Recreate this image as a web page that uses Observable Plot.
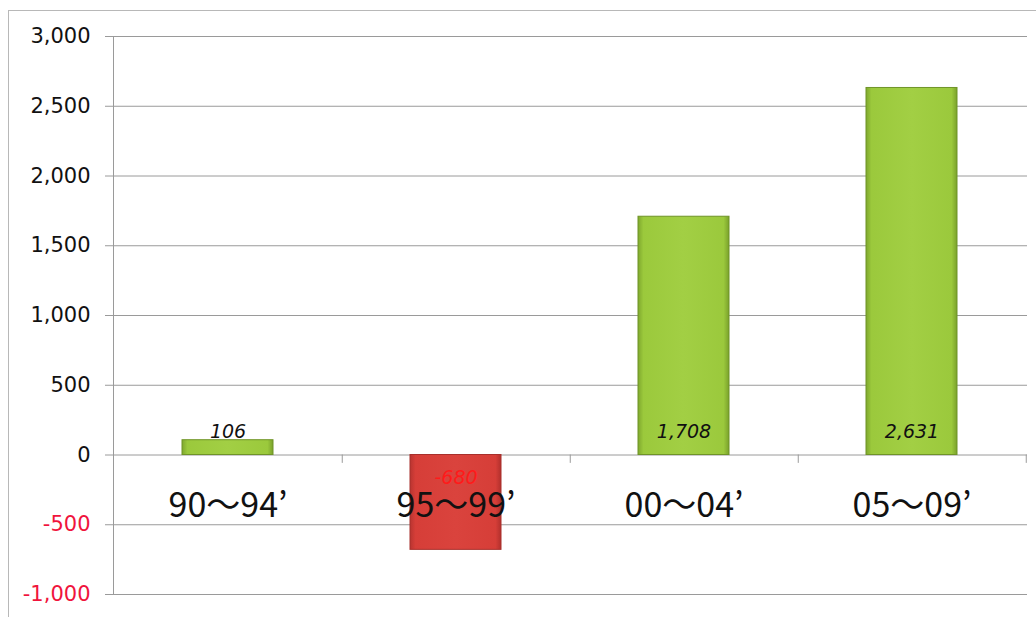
<!DOCTYPE html>
<html>
<head>
<meta charset="utf-8">
<script src="https://cdn.jsdelivr.net/npm/d3@7"></script>
<script src="https://cdn.jsdelivr.net/npm/@observablehq/plot@0.6"></script>
<style>
  html, body { margin: 0; padding: 0; background: #fff; }
  #wrap { position: relative; width: 1036px; height: 617px; overflow: hidden; }
  #border { position: absolute; left: 8px; top: 10px; width: 1040px; height: 640px; border: 1px solid #b8b8b8; box-sizing: border-box; }
  #chart { position: absolute; left: 0; top: 0; }
</style>
</head>
<body>
<div id="wrap"><div id="border"></div><div id="chart"></div></div>
<script>
// Five-year periods and their net values
const periods = ["90～94’", "95～99’", "00～04’", "05～09’"];
const values = [106, -680, 1708, 2631];
const yTicksPositive = [0, 500, 1000, 1500, 2000, 2500, 3000];
const yTicksNegative = [-1000, -500];

const rows = periods.map((p, i) => ({period: p, value: values[i]}));
const positives = rows.filter(d => d.value >= 0);
const negatives = rows.filter(d => d.value < 0);

// thousands separator with an ASCII hyphen for negatives
const fmt = v => (v < 0 ? "-" : "") + Math.abs(v).toLocaleString("en-US");

const axisStyle = {tickSize: 8, tickPadding: 15, tickFormat: fmt, fontSize: 21, fontFamily: "DejaVu Sans", stroke: "#9a9a9a", label: null};

const chart = Plot.plot({
  width: 1036,
  height: 617,
  marginLeft: 113,
  marginRight: 9,
  marginTop: 36,
  marginBottom: 23,
  style: {background: "transparent", overflow: "visible"},
  x: {domain: periods, paddingInner: 0.6, paddingOuter: 0.3, axis: null},
  y: {domain: [-1000, 3000], axis: null},
  marks: [
    // horizontal gridlines
    Plot.gridY(yTicksPositive.concat(yTicksNegative), {stroke: "#9a9a9a", strokeOpacity: 1, strokeWidth: 1}),
    Plot.axisY(yTicksPositive, {...axisStyle, fill: "#111"}),
    Plot.axisY(yTicksNegative, {...axisStyle, fill: "#f0143c"}),
    Plot.frame({anchor: "left", stroke: "#9a9a9a"}),
    // category tick marks along the zero line
    Plot.ruleX(periods, {x: d => d, y1: 0, y2: -60, dx: 114.25, stroke: "#9a9a9a"}),
    Plot.barY(positives, {x: "period", y: "value", fill: "url(#greenGrad)", stroke: "#6f9427", strokeWidth: 1}),
    Plot.barY(negatives, {x: "period", y: "value", fill: "url(#redGrad)", stroke: "#a8302c", strokeWidth: 1}),
    // value labels at the base of each bar
    Plot.text(positives, {
      x: "period", y: 0, text: d => fmt(d.value), dy: -23,
      fill: "#111", fontSize: 19, fontStyle: "italic", fontFamily: "DejaVu Sans",
      textAnchor: "middle", lineAnchor: "middle"
    }),
    Plot.text(negatives, {
      x: "period", y: 0, text: d => fmt(d.value), dy: 23,
      fill: "#ff1a1a", fontSize: 19, fontStyle: "italic", fontFamily: "DejaVu Sans",
      textAnchor: "middle", lineAnchor: "middle"
    }),
    // period labels below the zero line
    Plot.text(rows, {
      x: "period", y: 0, text: "period", dy: 51,
      fontSize: 34, fontFamily: "Noto Sans CJK JP", fill: "#111",
      textAnchor: "middle", lineAnchor: "middle"
    })
  ]
});

// gradient definitions for the bevelled bars
const ns = "http://www.w3.org/2000/svg";
const defs = document.createElementNS(ns, "defs");
function grad(id, stops) {
  const g = document.createElementNS(ns, "linearGradient");
  g.setAttribute("id", id);
  g.setAttribute("x1", "0"); g.setAttribute("x2", "1");
  g.setAttribute("y1", "0"); g.setAttribute("y2", "0");
  for (const [o, c] of stops) {
    const s = document.createElementNS(ns, "stop");
    s.setAttribute("offset", o); s.setAttribute("stop-color", c);
    g.appendChild(s);
  }
  defs.appendChild(g);
}
grad("greenGrad", [[0, "#7fa82e"], [0.06, "#9bc93c"], [0.5, "#a2cf44"], [0.94, "#9bc93c"], [1, "#7aa12b"]]);
grad("redGrad", [[0, "#b83430"], [0.06, "#d63e38"], [0.5, "#da433d"], [0.94, "#d63e38"], [1, "#b2302c"]]);
chart.insertBefore(defs, chart.firstChild);

document.getElementById("chart").appendChild(chart);
</script>
</body>
</html>
